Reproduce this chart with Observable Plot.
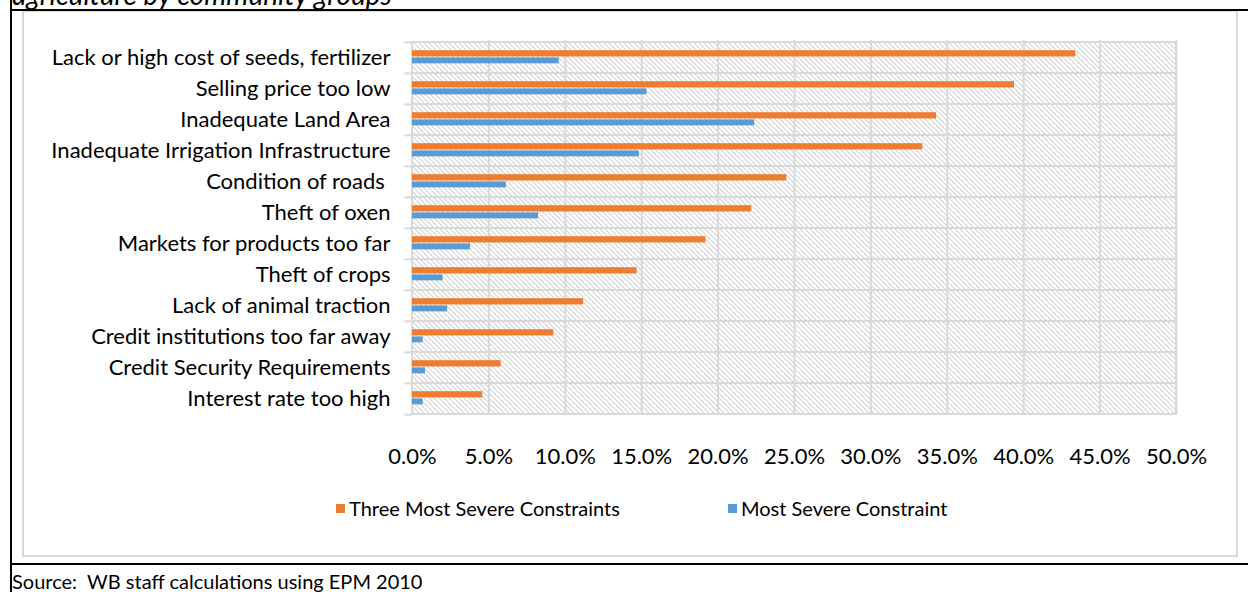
<!DOCTYPE html>
<html><head><meta charset="utf-8">
<script src="https://cdn.jsdelivr.net/npm/d3@7"></script>
<script src="https://cdn.jsdelivr.net/npm/@observablehq/plot@0.6"></script>
<style>
body{margin:0;background:#fff;font-family:Lato,"Open Sans",sans-serif;color:#000;}
#page{position:relative;width:1248px;height:592px;overflow:hidden;background:#fff;}
#title{position:absolute;left:12px;top:-20px;font-size:28px;font-style:italic;white-space:pre;line-height:28px;}
.hline{position:absolute;left:10px;width:1238px;height:2px;background:#000;}
.vline{position:absolute;left:10px;top:0;width:2px;height:592px;background:#000;}
#frame{position:absolute;left:22px;top:11px;width:1212px;height:543px;border:2px solid #d9d9d9;border-top:1px solid #d9d9d9;}
#chart{position:absolute;left:22px;top:11px;}
.leg{position:absolute;top:498px;font-size:20px;line-height:20px;white-space:pre;display:flex;align-items:center;}
.sw{width:9px;height:9px;margin-right:4px;}
#source{position:absolute;left:12px;top:570px;font-size:20px;line-height:22px;white-space:pre;}
</style></head><body>
<div id="page">
  <div id="title">agriculture by community groups</div>
  <div class="hline" style="top:9px"></div>
  <div class="vline"></div>
  <div id="frame"></div>
  <div id="chart"></div>
  <div id="legend"></div>
  <div class="hline" style="top:563px"></div>
  <div id="source">Source:  WB staff calculations using EPM 2010</div>
</div>
<script>
const categories = [
  "Lack or high cost of seeds, fertilizer",
  "Selling price too low",
  "Inadequate Land Area",
  "Inadequate Irrigation Infrastructure",
  "Condition of roads ",
  "Theft of oxen",
  "Markets for products too far",
  "Theft of crops",
  "Lack of animal traction",
  "Credit institutions too far away",
  "Credit Security Requirements",
  "Interest rate too high"
];
const threeMostSevere = [43.4, 39.4, 34.3, 33.4, 24.5, 22.2, 19.2, 14.7, 11.2, 9.25, 5.8, 4.6];
const mostSevere = [9.6, 15.35, 22.4, 14.85, 6.15, 8.25, 3.8, 2.0, 2.3, 0.7, 0.85, 0.7];
const xTickValues = [0, 5, 10, 15, 20, 25, 30, 35, 40, 45, 50];
const seriesNames = ["Three Most Severe Constraints", "Most Severe Constraint"];
const seriesColors = ["#ED7D31", "#5B9BD5"];

const rows = categories.map((c, i) => ({category: c, three: threeMostSevere[i], most: mostSevere[i]}));

const W = 1214, H = 470, mL = 390, mR = 60, mT = 29, mB = 66;
const band = (H - mT - mB) / categories.length;
const grid = "#d9d9d9";

const chart = Plot.plot({
  width: W, height: H,
  marginLeft: mL, marginRight: mR, marginTop: mT, marginBottom: mB,
  style: {fontFamily: "Lato, 'Open Sans', sans-serif", fontSize: "22px", color: "#000", background: "transparent", whiteSpace: "pre"},
  x: {domain: [0, 50], ticks: xTickValues, tickFormat: d => d.toFixed(1) + "%", tickSize: 0, tickPadding: 33, label: null},
  y: {domain: categories, padding: 0, tickSize: 0, tickPadding: 22, label: null},
  marks: [
    Plot.barX(categories, {y: d => d, x1: () => 0, x2: () => 50, fill: "url(#hatch)", stroke: grid, strokeWidth: 2}),
    Plot.ruleX(xTickValues.slice(1), {x: d => d, stroke: grid, strokeWidth: 2}),
    Plot.ruleY(categories, {y: d => d, dy: -band / 2, x1: () => -0.5, x2: () => 0, stroke: grid, strokeWidth: 2}),
    Plot.ruleY(categories.slice(-1), {y: d => d, dy: band / 2, x1: () => -0.5, x2: () => 0, stroke: grid, strokeWidth: 2}),
    Plot.barX(rows, {y: "category", x: "three", fill: seriesColors[0], insetTop: 8.2, insetBottom: band - 14.7}),
    Plot.barX(rows, {y: "category", x: "most", fill: seriesColors[1], insetTop: 15.4, insetBottom: band - 21.6})
  ]
});

const svg = d3.select(chart);
const defs = svg.insert("defs", ":first-child");
const pat = defs.append("pattern").attr("id", "hatch").attr("patternUnits", "userSpaceOnUse")
  .attr("width", 5).attr("height", 5);
pat.append("rect").attr("width", 5).attr("height", 5).attr("fill", "#fff");
pat.append("path").attr("d", "M-1,-1L6,6M-1,4L1,6M4,-1L6,1").attr("stroke", "#d2d2d2").attr("stroke-width", 1.1);
document.getElementById("chart").appendChild(chart);

const legLefts = [336, 728];
const legend = document.getElementById("legend");
seriesNames.forEach((n, i) => {
  const d = document.createElement("div");
  d.className = "leg";
  d.style.left = legLefts[i] + "px";
  d.innerHTML = `<span class="sw" style="background:${seriesColors[i]}"></span><span>${n}</span>`;
  legend.appendChild(d);
});
</script>
</body></html>
